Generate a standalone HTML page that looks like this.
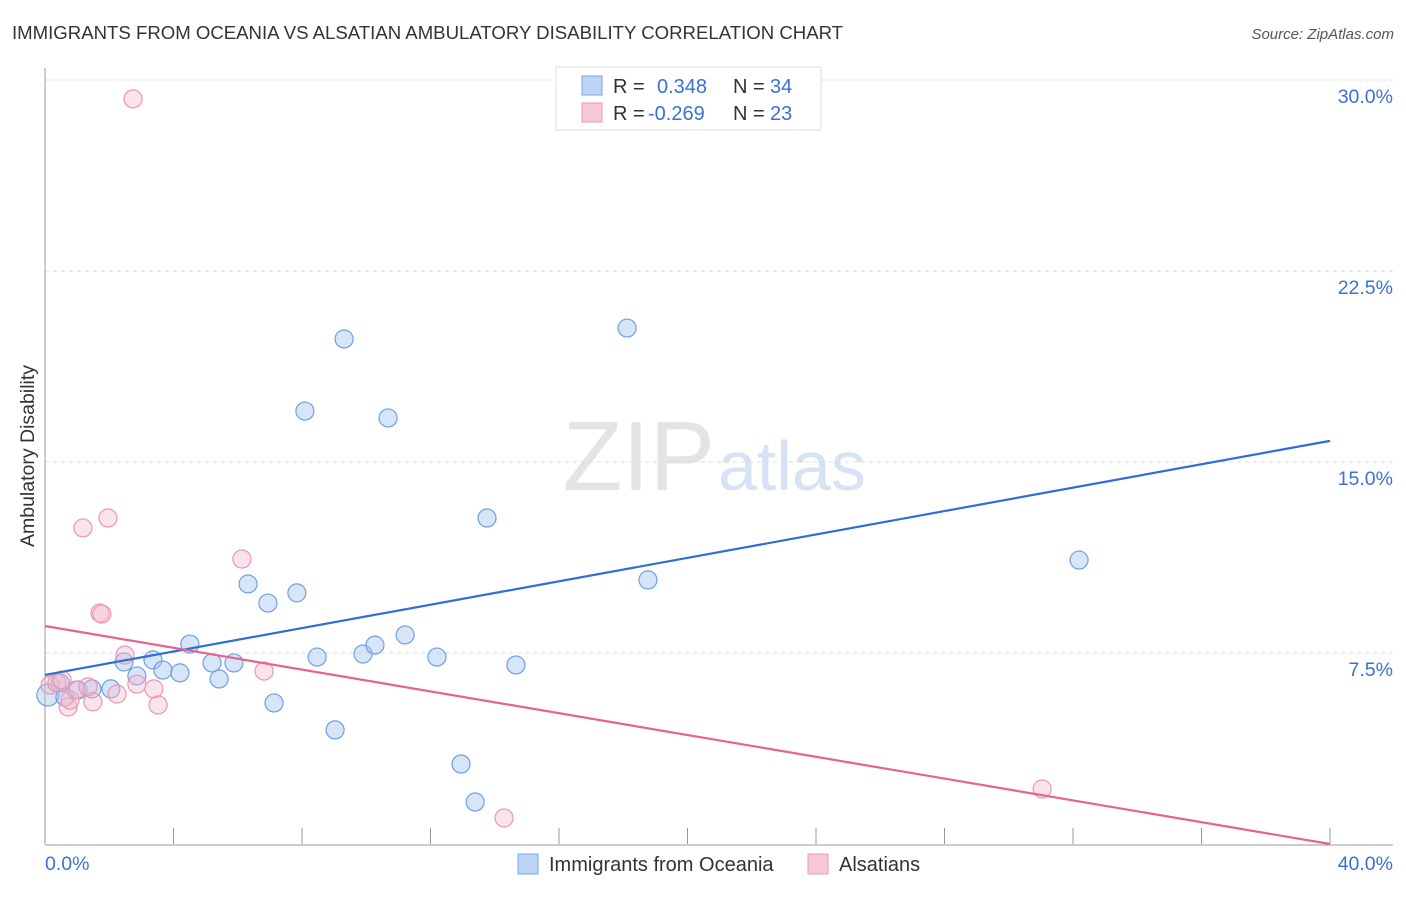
<!DOCTYPE html>
<html><head><meta charset="utf-8"><style>
body{margin:0;background:#fff;font-family:"Liberation Sans",sans-serif;}
svg text{font-family:"Liberation Sans",sans-serif;}
</style></head><body>
<svg id="chart" width="1406" height="892" xmlns="http://www.w3.org/2000/svg">
<text x="12" y="39" font-size="18.6" fill="#333">IMMIGRANTS FROM OCEANIA VS ALSATIAN AMBULATORY DISABILITY CORRELATION CHART</text>
<text x="1394" y="39" font-size="15" fill="#555" text-anchor="end" font-style="italic">Source: ZipAtlas.com</text>
<text x="715" y="490" font-size="98" fill="#e4e4e4" text-anchor="end" font-family="Liberation Serif">ZIP</text>
<text x="718" y="490" font-size="70" fill="#d5e3f5">atlas</text>
<g id="grid"></g>
<g id="axes"></g>
<g id="points"></g>
<g id="trends"></g>
<text transform="translate(34,456) rotate(-90)" font-size="19.5" fill="#333" text-anchor="middle">Ambulatory Disability</text>
<g>
<rect x="556" y="67" width="265" height="63" fill="#fff" stroke="#ddd"/>
<rect x="582" y="76" width="20" height="19" fill="#bcd4f5" stroke="#7aa5e3"/>
<text x="613" y="93" font-size="20" fill="#333">R = <tspan fill="#3a72d4" x="657">0.348</tspan><tspan x="733" fill="#333">N = </tspan><tspan fill="#3a72d4" x="770">34</tspan></text>
<rect x="582" y="103" width="20" height="19" fill="#f8c8d6" stroke="#e99ab3"/>
<text x="613" y="120" font-size="20" fill="#333">R = <tspan fill="#3a72d4" x="648">-0.269</tspan><tspan x="733" fill="#333">N = </tspan><tspan fill="#3a72d4" x="770">23</tspan></text>
</g>
<g>
<rect x="518" y="854" width="20" height="20" fill="#bcd4f5" stroke="#7aa5e3"/>
<text x="549" y="871" font-size="20" fill="#333">Immigrants from Oceania</text>
<rect x="808" y="854" width="20" height="20" fill="#f8c8d6" stroke="#e99ab3"/>
<text x="839" y="871" font-size="20" fill="#333">Alsatians</text>
</g>
</svg>
<script>
const yTicks=[7.5,15,22.5,30];
const yTickLabels=["7.5%","15.0%","22.5%","30.0%"];
const xTickLabels=["0.0%","40.0%"];
const blueX=[0.09,0.47,0.62,1.03,1.46,2.05,2.46,2.86,3.36,3.67,4.20,4.51,5.20,5.42,5.88,6.32,6.94,7.13,7.84,8.09,8.47,9.03,9.31,9.90,10.27,10.68,11.21,12.20,12.95,13.39,13.76,14.66,18.12,18.77,32.19];
const blueY=[5.85,6.32,5.77,6.05,6.09,6.09,7.15,6.60,7.23,6.83,6.72,7.85,7.11,6.48,7.11,10.21,9.46,5.54,9.86,17.00,7.34,4.48,19.83,7.46,7.81,16.73,8.21,7.34,3.14,1.65,12.80,7.03,20.26,10.37,11.15];
const pinkX=[2.74,0.16,0.37,0.53,0.72,0.78,0.96,1.18,1.34,1.49,1.71,1.77,1.96,2.24,2.49,2.86,3.39,3.52,6.13,6.82,14.29,31.04];
const pinkY=[29.26,6.24,6.32,6.44,5.38,5.65,6.05,12.41,6.17,5.58,9.07,9.03,12.80,5.89,7.42,6.28,6.09,5.46,11.19,6.79,1.02,2.16];
const blueTrend=[6.64,15.83];
const pinkTrend=[8.56,0.0];
const NS="http://www.w3.org/2000/svg";
const X0=45,X1=1330,Y0=844,Y1=80;
function sx(v){return X0+(v/40)*(X1-X0);}
function sy(v){return Y0-(v/30)*(Y0-Y1);}
function mk(tag,attrs,parent){const e=document.createElementNS(NS,tag);for(const k in attrs)e.setAttribute(k,attrs[k]);parent.appendChild(e);return e;}
const grid=document.getElementById('grid'),axes=document.getElementById('axes'),pts=document.getElementById('points'),tr=document.getElementById('trends');
yTicks.forEach((t,i)=>{
  const l=mk('line',{x1:X0,x2:1393,y1:sy(t),y2:sy(t),stroke:'#ddd','stroke-dasharray':'4,4'},grid);
  
  
  const tx=mk('text',{x:1393,y:sy(t)+23,'font-size':19.5,fill:'#3a72d4','text-anchor':'end'},axes);
  tx.textContent=yTickLabels[i];
  
  
});
const ax=mk('line',{x1:X0,x2:X0,y1:68,y2:Y0,stroke:'#999'},axes);


const bx=mk('line',{x1:X0,x2:1393,y1:Y0+1,y2:Y0+1,stroke:'#999'},axes);


for(let i=1;i<=10;i++){
  const t=mk('line',{x1:sx(i*4),x2:sx(i*4),y1:828,y2:Y0,stroke:'#999'},axes);
  
  
}
[[0,'start',X0],[40,'end',1393]].forEach((d,i)=>{
  const tx=mk('text',{x:d[2],y:870,'font-size':19.5,fill:'#3a72d4','text-anchor':d[1]},axes);
  tx.textContent=xTickLabels[i];
  
  
});
blueX.forEach((v,i)=>{
  const c=mk('circle',{cx:sx(v),cy:sy(blueY[i]),r:i==0?11:9,fill:'rgba(165,198,240,0.45)',stroke:'#6f9fe2','stroke-width':1.2},pts);
  
  
});
pinkX.forEach((v,i)=>{
  const c=mk('circle',{cx:sx(v),cy:sy(pinkY[i]),r:9,fill:'rgba(246,185,204,0.4)',stroke:'#eb96b2','stroke-width':1.2},pts);
  
  
});
const bl=mk('line',{x1:sx(0),y1:sy(blueTrend[0]),x2:sx(40),y2:sy(blueTrend[1]),stroke:'#2c6fd6','stroke-width':2.2},tr);


const pl=mk('line',{x1:sx(0),y1:sy(pinkTrend[0]),x2:sx(40),y2:sy(pinkTrend[1]),stroke:'#e5638f','stroke-width':2.2},tr);


</script>
</body></html>
